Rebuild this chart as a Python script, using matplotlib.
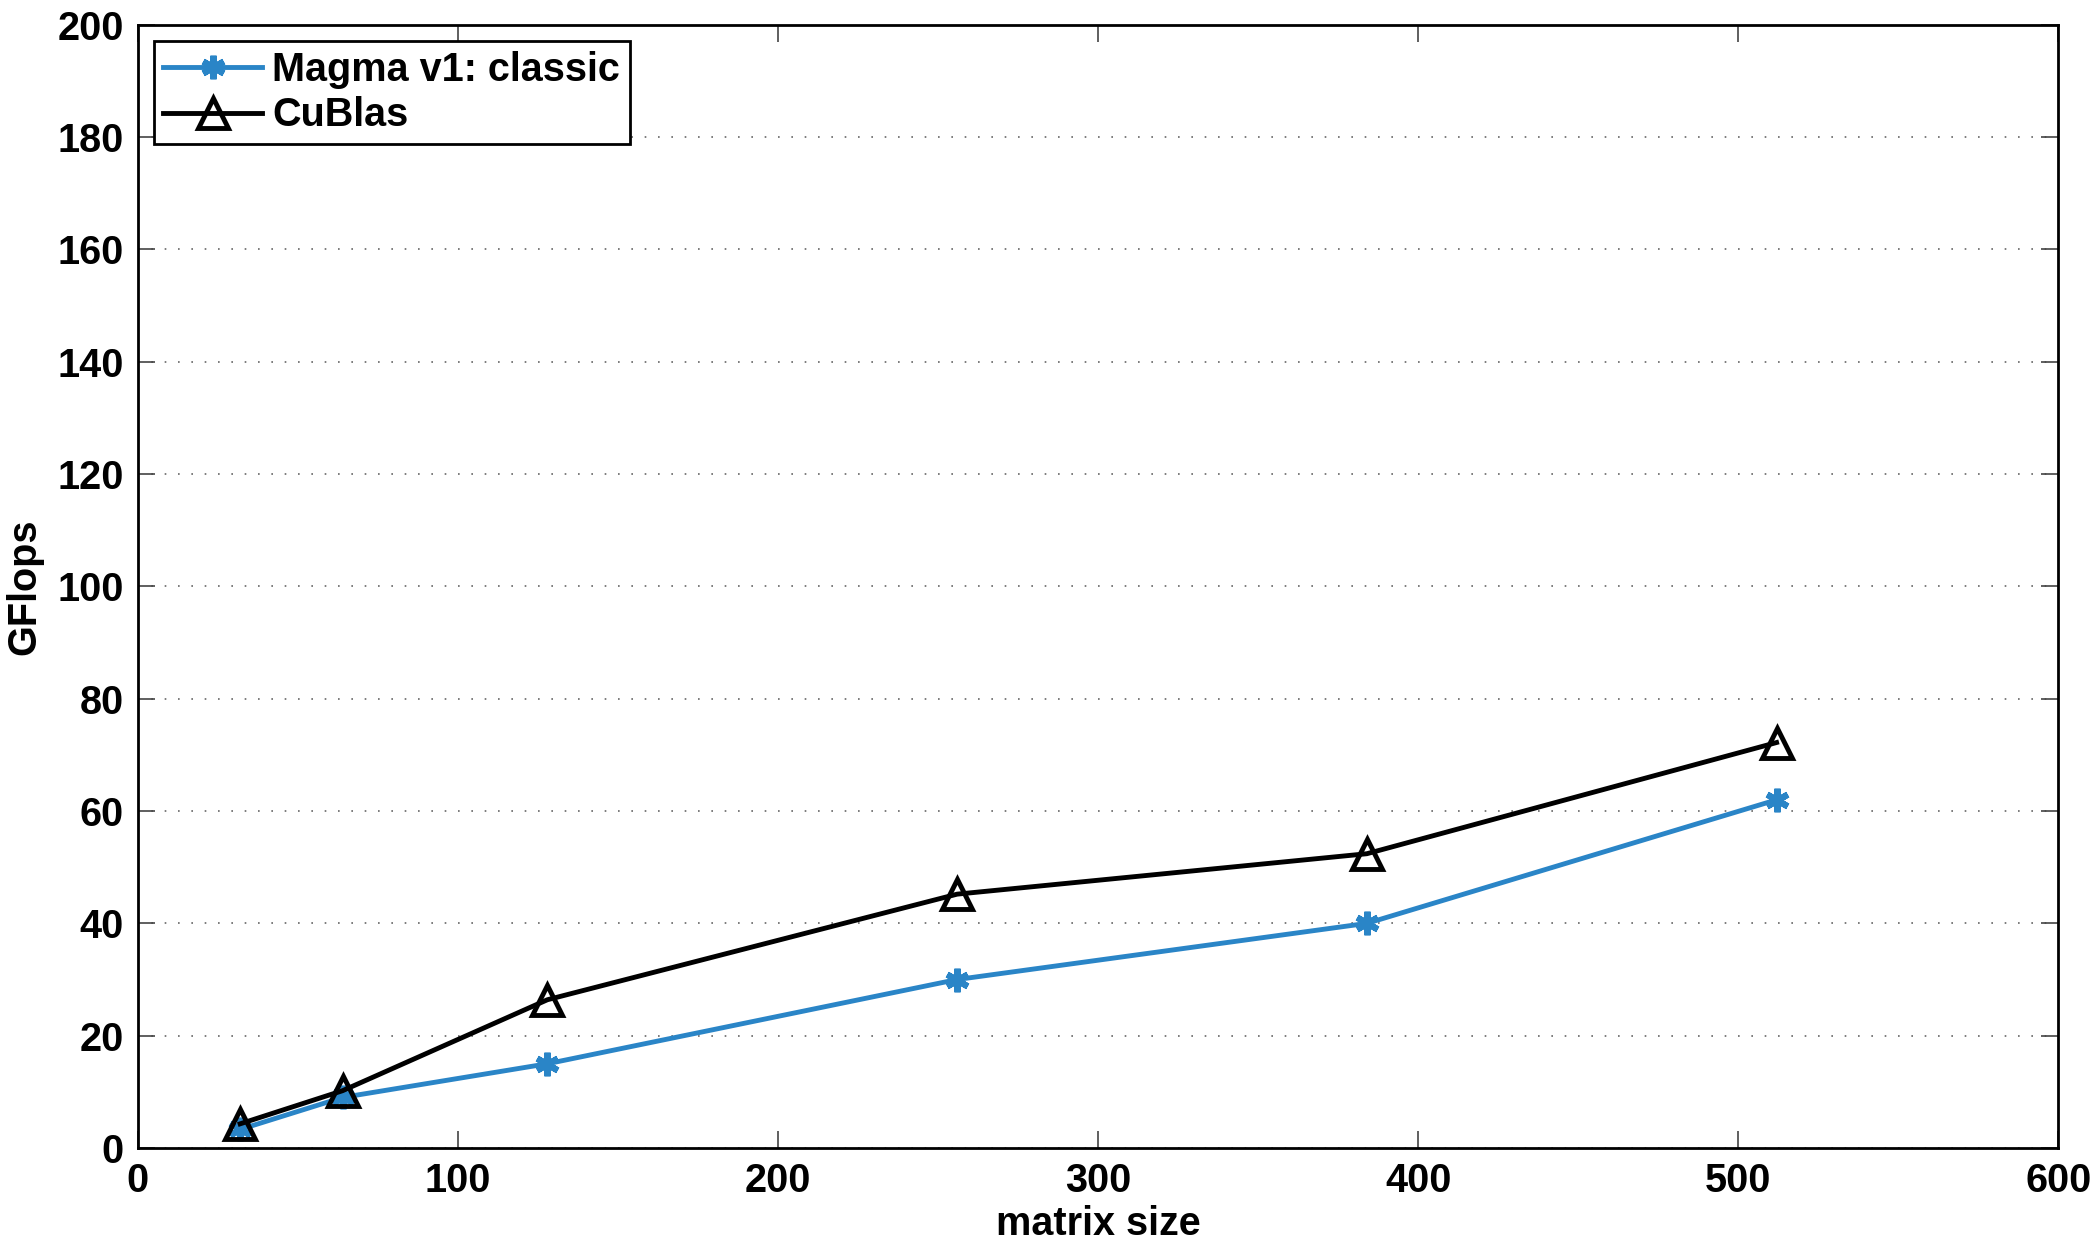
import matplotlib.pyplot as plt

plt.rcParams['font.family'] = ['Liberation Sans', 'DejaVu Sans']
plt.rcParams['font.weight'] = 'bold'

matrix_size = [32, 64, 128, 256, 384, 512]
magma_gflops = [3.3, 9, 15, 30, 40, 62]
cublas_gflops = [4.3, 10.2, 26.4, 45.2, 52.4, 72.2]

fig = plt.figure(figsize=(20.96, 12.42), dpi=100)
ax = fig.add_axes([0.0657, 0.0757, 0.9163, 0.9043])

ax.plot(matrix_size, magma_gflops, color='#2a85c7', lw=3.5, marker=(6, 2, 0),
        ms=17, mew=4.5, mec='#2a85c7', label='Magma v1: classic')
ax.plot(matrix_size, cublas_gflops, color='black', lw=3.5, marker='^',
        ms=21, mew=3.5, mfc='none', mec='black', label='CuBlas')

ax.set_xlim(0, 600)
ax.set_ylim(0, 200)
ax.set_xticks(range(0, 601, 100))
ax.set_yticks(range(0, 201, 20))
ax.yaxis.grid(True, linestyle=(0, (1, 7)), color='#666666', lw=1.2)
ax.tick_params(direction='in', length=12, width=1.2, top=True, right=True,
               labelsize=28.5, pad=10, color='#444444')
for s in ax.spines.values():
    s.set_linewidth(2)

ax.set_xlabel('matrix size', fontsize=28.5, fontweight='bold', labelpad=4)
ax.set_ylabel('GFlops', fontsize=28.5, fontweight='bold', labelpad=10)

leg = ax.legend(loc='upper left', fontsize=28.5, frameon=True, fancybox=False,
                edgecolor='black', framealpha=1, borderpad=0.25,
                handlelength=2.5, handletextpad=0.25, labelspacing=0.2,
                borderaxespad=0.4)
leg.get_frame().set_linewidth(2)

fig.savefig('out.png', dpi=100)
